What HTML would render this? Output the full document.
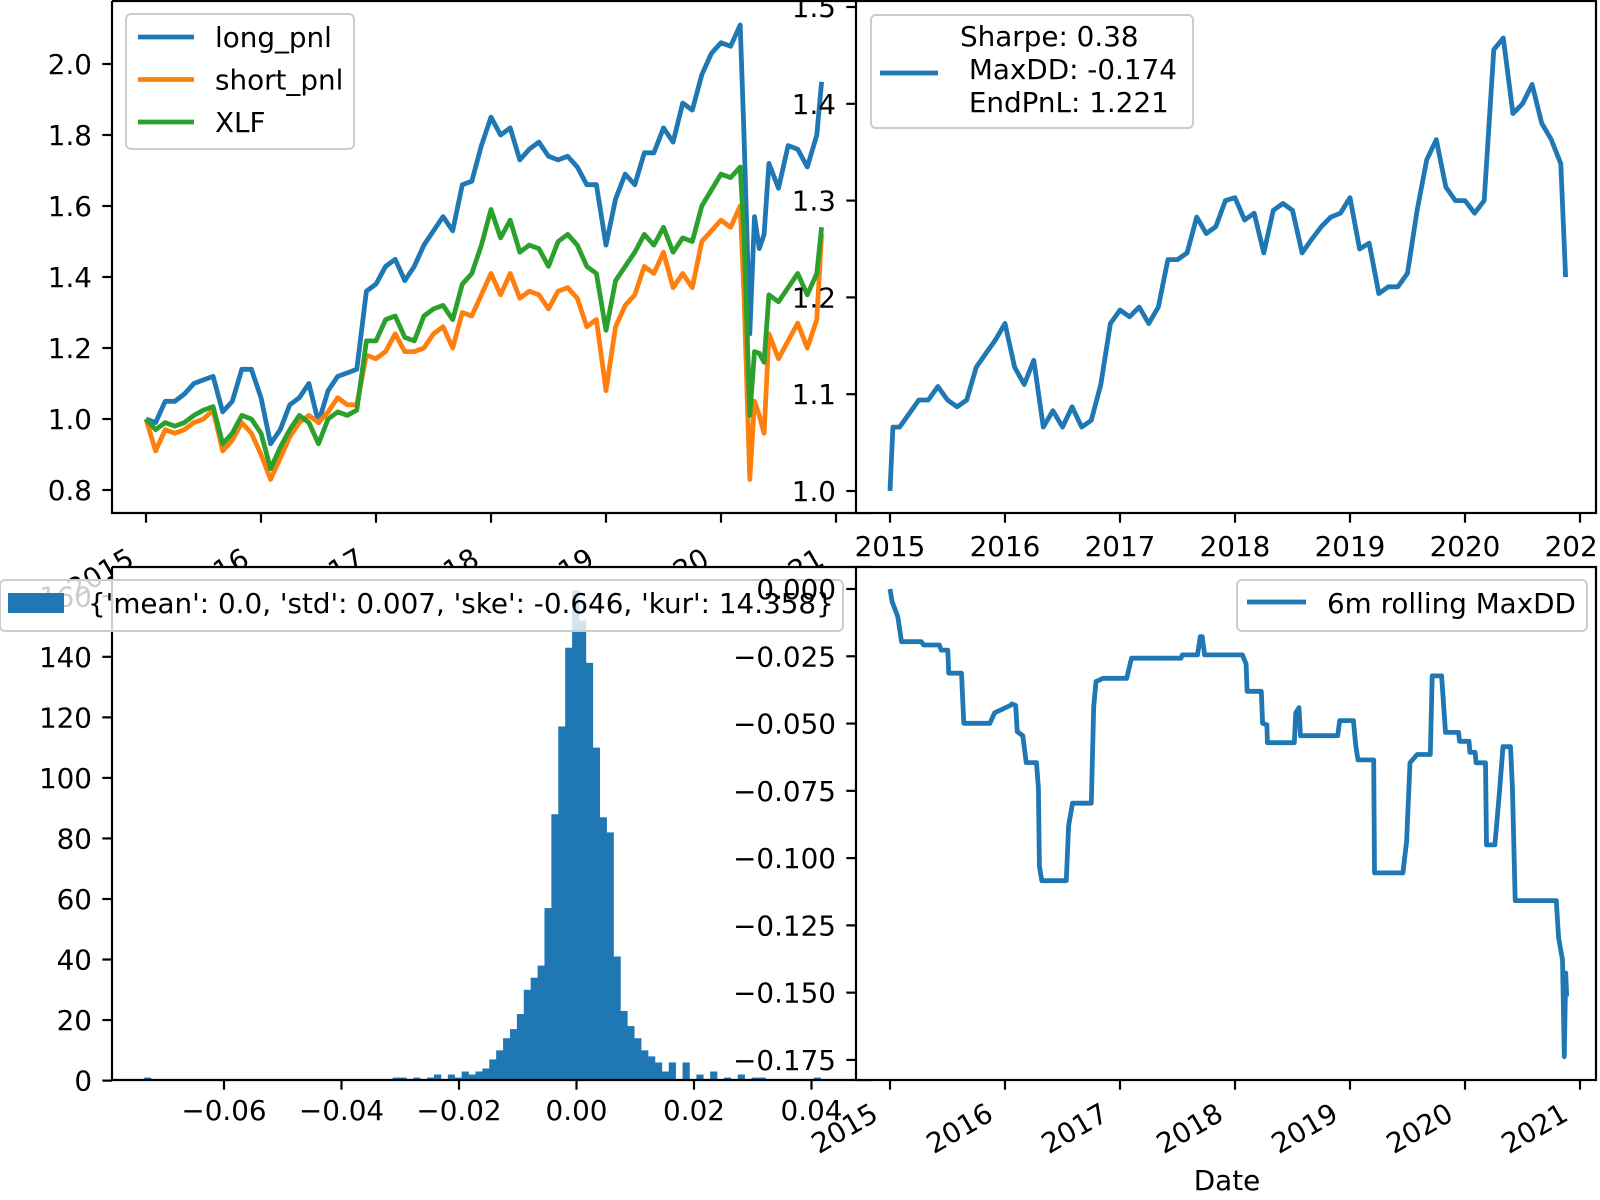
<!DOCTYPE html>
<html><head><meta charset="utf-8"><style>
html,body{margin:0;padding:0;background:#fff;}
svg{display:block;font-family:"DejaVu Sans","Liberation Sans",sans-serif;}
</style></head><body>
<svg id="fig" width="1600" height="1200" viewBox="0 0 1600 1200" xmlns="http://www.w3.org/2000/svg"></svg>
<script>
// ---------- DATA ----------
const pnlMonths = [0,1,2,3,4,5,6,7,8,9,10,11,12,13,14,15,16,17,18,19,20,21,22,23,24,25,26,27,28,29,30,31,32,33,34,35,36,37,38,39,40,41,42,43,44,45,46,47,48,49,50,51,52,53,54,55,56,57,58,59,60,61,62,62.4,63,63.5,64,64.5,65,66,67,68,69,70,70.5];
const longPnl = [1.0,0.99,1.05,1.05,1.07,1.10,1.11,1.12,1.02,1.05,1.14,1.14,1.06,0.93,0.97,1.04,1.06,1.10,0.99,1.08,1.12,1.13,1.14,1.36,1.38,1.43,1.45,1.39,1.43,1.49,1.53,1.57,1.53,1.66,1.67,1.77,
1.85,1.80,1.82,1.73,1.76,1.78,1.74,1.73,1.74,1.71,1.66,1.66,1.49,1.62,1.69,1.66,1.75,1.75,1.82,1.78,1.89,1.87,1.97,2.03,2.06,2.05,2.11,
1.80,1.24,1.57,1.48,1.52,1.72,1.65,1.77,1.76,1.71,1.80,1.95];
const shortPnl = [1.0,0.91,0.97,0.96,0.97,0.99,1.0,1.025,0.91,0.94,0.99,0.96,0.90,0.83,0.89,0.95,0.99,1.01,0.99,1.02,1.06,1.04,1.04,1.18,1.17,1.19,1.24,1.19,1.19,1.20,1.24,1.26,1.20,1.30,1.29,1.35,
1.41,1.35,1.41,1.34,1.36,1.35,1.31,1.36,1.37,1.34,1.26,1.28,1.08,1.26,1.32,1.35,1.43,1.41,1.47,1.37,1.41,1.37,1.50,1.53,1.56,1.54,1.60,
1.35,0.83,1.05,1.01,0.96,1.24,1.17,1.22,1.27,1.20,1.28,1.52];
const xlfPnl = [1.0,0.97,0.99,0.98,0.99,1.01,1.025,1.035,0.93,0.96,1.01,1.0,0.96,0.86,0.92,0.97,1.01,0.99,0.93,1.0,1.02,1.01,1.025,1.22,1.22,1.28,1.29,1.23,1.22,1.29,1.31,1.32,1.28,1.38,1.41,1.49,
1.59,1.51,1.56,1.47,1.49,1.48,1.43,1.50,1.52,1.49,1.43,1.41,1.25,1.39,1.43,1.47,1.52,1.49,1.54,1.47,1.51,1.50,1.60,1.645,1.69,1.68,1.71,
1.52,1.01,1.19,1.185,1.16,1.35,1.33,1.37,1.41,1.35,1.41,1.54];
const yearTicks = ["2015","2016","2017","2018","2019","2020","2021"];
const tlYTicks = [0.8,1.0,1.2,1.4,1.6,1.8,2.0];

const netMonths = [0,0.3,1,2,3,4,5,6,7,8,9,10,11,12,13,14,15,16,17,18,19,20,21,22,23,24,25,26,27,28,29,30,31,32,33,34,35,36,37,38,39,40,41,42,43,44,45,46,47,48,49,50,51,52,53,54,55,56,57,58,59,60,61,62,63,64,65,66,67,68,69,70,70.5];
const netPnl = [1.0,1.066,
1.066,1.08,1.094,1.094,1.108,1.094,1.087,1.094,1.128,1.142,
1.156,1.173,1.128,1.11,1.135,1.066,1.083,1.066,1.087,1.066,
1.073,1.11,1.173,1.187,1.18,1.19,1.173,1.19,1.239,1.239,
1.246,1.283,1.266,1.273,1.30,1.303,1.28,1.287,1.246,1.29,
1.297,1.29,1.246,1.26,1.273,1.283,1.287,1.303,1.25,1.256,
1.204,1.211,1.211,1.225,1.29,1.342,1.363,1.314,1.30,1.30,
1.287,1.30,1.456,1.468,1.39,1.40,1.42,1.38,1.363,1.338,1.221];
const trYTicks = [1.0,1.1,1.2,1.3,1.4,1.5];

const histStart = -0.0736;
const histBinWidth = 0.001175;
const histCounts = {0:1,36:1,37:1,39:1,41:1,42:2,44:2,45:1,46:3,47:2,48:3,49:4,50:7,51:10,52:14,53:17,54:22,55:30,56:34,57:38,58:57,59:88,60:117,61:143,62:162,63:152,64:138,65:110,66:87,67:82,68:41,69:23,70:18,71:14,72:10,73:8,74:6,75:3,76:6,78:6,80:2,82:3,84:1,86:2,88:1,89:1,97:1};
const histXTicks = [-0.06,-0.04,-0.02,0.00,0.02,0.04];
const histYTicks = [0,20,40,60,80,100,120,140,160];

const ddMonths = [0,0.22,0.81,1.2,3.27,3.52,5.15,5.34,6.03,6.13,7.46,7.7,10.42,10.91,12.54,12.73,13.12,13.27,13.86,14.21,15.29,15.49,15.59,15.84,18.4,18.64,19.04,21.0,21.26,21.5,22.24,24.7,25.2,30.37,30.51,32.09,32.38,32.58,32.83,36.77,37.16,37.26,38.74,38.88,39.33,39.38,42.19,42.34,42.68,42.83,46.72,46.92,48.35,48.59,48.84,50.47,50.56,53.52,53.91,54.26,55.0,56.38,56.58,57.56,57.96,59.33,59.43,60.42,60.51,61.05,61.16,62.14,62.24,63.12,63.62,63.97,64.75,64.95,65.24,69.53,69.77,70.17,70.36,70.51,70.61];
const ddValues = [0,-0.0047,-0.0103,-0.0196,-0.0196,-0.0208,-0.0208,-0.0227,-0.0227,-0.0313,-0.0313,-0.0499,-0.0499,-0.046,-0.0433,-0.0427,-0.0433,-0.053,-0.0545,-0.0645,-0.0645,-0.074,-0.103,-0.1084,-0.1084,-0.088,-0.0796,-0.0796,-0.0437,-0.0344,-0.0332,-0.0332,-0.0257,-0.0257,-0.0245,-0.0245,-0.0177,-0.0177,-0.0245,-0.0245,-0.0279,-0.038,-0.038,-0.0499,-0.0505,-0.0571,-0.0571,-0.046,-0.0441,-0.0545,-0.0545,-0.0489,-0.0489,-0.058,-0.0635,-0.0635,-0.1055,-0.1055,-0.0938,-0.0646,-0.0615,-0.0615,-0.0323,-0.0323,-0.0533,-0.0533,-0.0566,-0.0566,-0.0607,-0.0607,-0.0646,-0.0646,-0.0951,-0.0951,-0.0744,-0.0586,-0.0586,-0.0735,-0.1158,-0.1158,-0.1297,-0.1378,-0.1738,-0.1427,-0.1514];
const brYTicks = [0,-0.025,-0.05,-0.075,-0.1,-0.125,-0.15,-0.175];
const brYLabels = ["0.000","\u22120.025","\u22120.050","\u22120.075","\u22120.100","\u22120.125","\u22120.150","\u22120.175"];

// ---------- AXES ----------
const xTL = m => 146 + m*115/12;
const yTL = v => 419 - (v-1)*355;
const xTR = m => 890 + m*115/12;
const yTR = v => 491 - (v-1)*968;
const xBL = v => 576.5 + v*5875;
const yBL = c => 1080.6 - c*3.027;
const xBR = xTR;
const yBR = v => 589 - v*2691;

const NS = "http://www.w3.org/2000/svg";
const svg = document.getElementById("fig");
function el(tag, attrs, parent){
  const e = document.createElementNS(NS, tag);
  for (const k in attrs) e.setAttribute(k, attrs[k]);
  (parent||svg).appendChild(e);
  return e;
}
function txt(s, attrs, parent){
  const t = el("text", attrs, parent);
  t.textContent = s;
  return t;
}
const FS = 27.8, TL = 9.7, LW = 4.8;
const C1 = "#1f77b4", C2 = "#ff7f0e", C3 = "#2ca02c";

function linePath(xs, ys, fx, fy){
  let d = "";
  for (let i=0;i<xs.length;i++) d += (i?"L":"M") + fx(xs[i]).toFixed(1) + "," + fy(ys[i]).toFixed(1);
  return d;
}

// ===== Top-left panel =====
let g = el("g", {});


el("rect",{x:112,y:1,width:760,height:512,fill:"#fff"},g);
const series = [[longPnl,C1,"long-pnl-line"],[shortPnl,C2,"short-pnl-line"],[xlfPnl,C3,"xlf-line"]];
series.forEach(s=>{
  const p = el("path",{d:linePath(pnlMonths,s[0],xTL,yTL),fill:"none",stroke:s[1],"stroke-width":LW,"stroke-linejoin":"round"},g);
  
  
});
el("path",{d:"M112,1V513H872",fill:"none",stroke:"#000","stroke-width":2.2},g);
el("path",{d:"M112,1H872",fill:"none",stroke:"#000","stroke-width":2.2},g);
tlYTicks.forEach(v=>{
  el("line",{x1:112,x2:112-TL,y1:yTL(v),y2:yTL(v),stroke:"#000","stroke-width":2.2},g);
  const t = txt(v.toFixed(1),{x:92,y:yTL(v)+10,"font-size":FS,"text-anchor":"end"},g);
  
  
});
yearTicks.forEach((s,i)=>{
  const x = xTL(i*12);
  el("line",{x1:x,x2:x,y1:513,y2:513+TL,stroke:"#000","stroke-width":2.2},g);
  const t = txt(s,{x:x-10,y:564,"font-size":FS,"text-anchor":"end",transform:`rotate(-30 ${x-10} 564)`},g);
  
  
});
let lg = el("g",{},g);


el("rect",{x:126,y:14,width:228,height:135,rx:5,fill:"#fff","fill-opacity":0.8,stroke:"#ccc","stroke-width":2},lg);
[["long_pnl",C1],["short_pnl",C2],["XLF",C3]].forEach((e,i)=>{
  const y = 37 + i*42.5;
  el("line",{x1:138,x2:194,y1:y,y2:y,stroke:e[1],"stroke-width":LW},lg);
  const t = txt(e[0],{x:215,y:y+10,"font-size":FS},lg);
  
  
});

// ===== Top-right panel =====
g = el("g", {});


el("rect",{x:856,y:1,width:740,height:512,fill:"#fff"},g);
let p = el("path",{d:linePath(netMonths,netPnl,xTR,yTR),fill:"none",stroke:C1,"stroke-width":LW,"stroke-linejoin":"round"},g);


el("rect",{x:856,y:1,width:740,height:512,fill:"none",stroke:"#000","stroke-width":2.2},g);
trYTicks.forEach(v=>{
  el("line",{x1:856,x2:856-TL,y1:yTR(v),y2:yTR(v),stroke:"#000","stroke-width":2.2},g);
  const t = txt(v.toFixed(1),{x:836,y:yTR(v)+10,"font-size":FS,"text-anchor":"end"},g);
  
  
});
yearTicks.forEach((s,i)=>{
  const x = xTR(i*12);
  el("line",{x1:x,x2:x,y1:513,y2:513+TL,stroke:"#000","stroke-width":2.2},g);
  const t = txt(s,{x:x,y:556,"font-size":FS,"text-anchor":"middle"},g);
  
  
});
lg = el("g",{},g);


el("rect",{x:871,y:15,width:322,height:113,rx:5,fill:"#fff","fill-opacity":0.8,stroke:"#ccc","stroke-width":2},lg);
el("line",{x1:880,x2:938,y1:73,y2:73,stroke:C1,"stroke-width":LW},lg);
["Sharpe: 0.38","\u00a0MaxDD: -0.174","\u00a0EndPnL: 1.221"].forEach((s,i)=>{
  const t = txt(s,{x:960,y:46+i*33,"font-size":FS},lg);
  
  
});

// ===== Bottom-left panel (histogram) =====
g = el("g", {});


el("rect",{x:112,y:567,width:760,height:513,fill:"#fff"},g);
Object.keys(histCounts).forEach(k=>{
  const i = +k, c = histCounts[k];
  const x0 = xBL(histStart + i*histBinWidth), x1 = xBL(histStart + (i+1)*histBinWidth);
  const r = el("rect",{x:x0,y:yBL(c),width:x1-x0+0.3,height:yBL(0)-yBL(c),fill:C1},g);
  
  
});
el("path",{d:"M112,567V1080H872M112,567H872",fill:"none",stroke:"#000","stroke-width":2.2},g);
histYTicks.forEach(v=>{
  el("line",{x1:112,x2:112-TL,y1:yBL(v),y2:yBL(v),stroke:"#000","stroke-width":2.2},g);
  const t = txt(String(v),{x:92,y:yBL(v)+10,"font-size":FS,"text-anchor":"end"},g);
  
  
});
histXTicks.forEach(v=>{
  const x = xBL(v);
  el("line",{x1:x,x2:x,y1:1080,y2:1080+TL,stroke:"#000","stroke-width":2.2},g);
  const s = (v<0?"\u2212":"") + Math.abs(v).toFixed(2);
  const t = txt(s,{x:x,y:1120,"font-size":FS,"text-anchor":"middle"},g);
  
  
});
lg = el("g",{},g);


el("rect",{x:0,y:580,width:843,height:51,rx:5,fill:"#fff","fill-opacity":0.8,stroke:"#ccc","stroke-width":2},lg);
el("rect",{x:8,y:593,width:56,height:20,fill:C1},lg);
let t = txt("{'mean': 0.0, 'std': 0.007, 'ske': -0.646, 'kur': 14.358}",{x:88,y:613,"font-size":FS},lg);



// ===== Bottom-right panel (drawdown) =====
g = el("g", {});


el("rect",{x:856,y:567,width:740,height:513,fill:"#fff"},g);
p = el("path",{d:linePath(ddMonths,ddValues,xBR,yBR),fill:"none",stroke:C1,"stroke-width":LW,"stroke-linejoin":"round"},g);


el("rect",{x:856,y:567,width:740,height:513,fill:"none",stroke:"#000","stroke-width":2.2},g);
brYTicks.forEach((v,i)=>{
  el("line",{x1:856,x2:856-TL,y1:yBR(v),y2:yBR(v),stroke:"#000","stroke-width":2.2},g);
  const t = txt(brYLabels[i],{x:836,y:yBR(v)+10,"font-size":FS,"text-anchor":"end"},g);
  
  
});
yearTicks.forEach((s,i)=>{
  const x = xBR(i*12);
  el("line",{x1:x,x2:x,y1:1080,y2:1080+TL,stroke:"#000","stroke-width":2.2},g);
  const t = txt(s,{x:x-10,y:1119,"font-size":FS,"text-anchor":"end",transform:`rotate(-30 ${x-10} 1119)`},g);
  
  
});
t = txt("Date",{x:1227,y:1190,"font-size":FS,"text-anchor":"middle"},g);


lg = el("g",{},g);


el("rect",{x:1237,y:580,width:350,height:51,rx:5,fill:"#fff","fill-opacity":0.8,stroke:"#ccc","stroke-width":2},lg);
el("line",{x1:1247,x2:1306,y1:602,y2:602,stroke:C1,"stroke-width":LW},lg);
t = txt("6m rolling MaxDD",{x:1327,y:613,"font-size":FS},lg);


</script>
</body></html>
